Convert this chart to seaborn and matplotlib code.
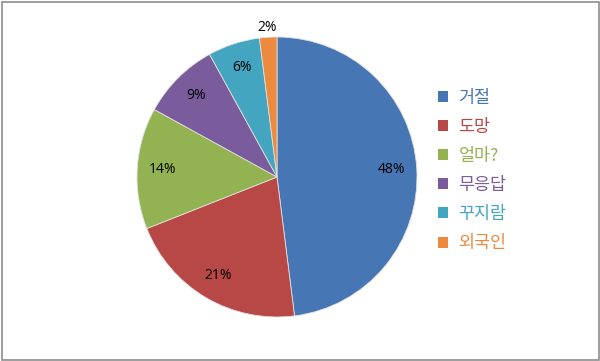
import matplotlib
matplotlib.use("Agg")
import matplotlib.pyplot as plt
import seaborn as sns
from matplotlib.patches import Rectangle, Patch
import numpy as np

categories = ["거절", "도망", "얼마?", "무응답", "꾸지람", "외국인"]
values = [48, 21, 14, 9, 6, 2]
colors = ["#4776B4", "#B84845", "#93B251", "#7A5C9C", "#43A5C0", "#EC8A3E"]

sns.set_theme(style="white")
plt.rcParams['font.family'] = ['Noto Sans CJK KR', 'DejaVu Sans']

fig = plt.figure(figsize=(6.0, 3.61), dpi=100)
ax = fig.add_axes([(277 - 140) / 600, (361 - 177 - 140) / 361, 280 / 600, 280 / 361])

wedges, texts, autotexts = ax.pie(
    values, colors=colors, startangle=90, counterclock=False,
    autopct=lambda p: f"{p:.0f}%", pctdistance=0.82, radius=1.0,
    wedgeprops=dict(edgecolor="#e0e0e0", linewidth=0.6),
    textprops=dict(fontsize=10, color="black", family=['Open Sans', 'DejaVu Sans']),
)
# move the small slice's label outside
w = wedges[-1]
ang = np.deg2rad((w.theta1 + w.theta2) / 2)
autotexts[-1].set_position((1.07 * np.cos(ang), 1.07 * np.sin(ang)))

ax.set_xlim(-1, 1)
ax.set_ylim(-1, 1)
ax.set_aspect("auto")
ax.axis("off")

handles = [Patch(facecolor=c, edgecolor="none") for c in colors]
leg = fig.legend(handles, categories, loc="upper left",
                 bbox_to_anchor=(422 / 600, 1 - 73 / 361),
                 frameon=False, fontsize=12.5, handlelength=0.6, handleheight=0.6,
                 handletextpad=0.6, labelspacing=0.64)
for t, c in zip(leg.get_texts(), colors):
    t.set_color(c)

fig.patches.append(Rectangle((1.5 / 600, 1.5 / 361), 1 - 3 / 600, 1 - 3 / 361,
                             transform=fig.transFigure, fill=False,
                             edgecolor="#8c8c8c", linewidth=1.2))

fig.savefig("out.png", dpi=100)
